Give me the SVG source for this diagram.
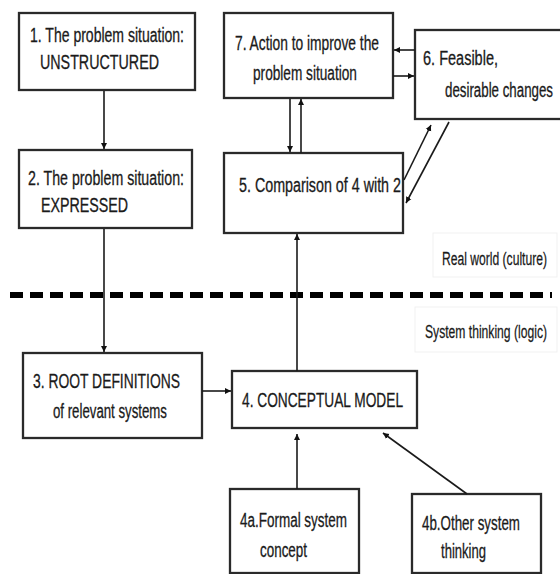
<svg xmlns="http://www.w3.org/2000/svg" width="560" height="574" viewBox="0 0 560 574">
<style>
.box{fill:#fff;stroke:#2a2a2a;stroke-width:2.3}
.lbl{fill:#fff;stroke:#f1f1f1;stroke-width:1}
.t{font-family:"Liberation Sans",Arial,sans-serif;font-size:20px;fill:#1a1a1a;stroke:#1a1a1a;stroke-width:0.3}
.s{font-family:"Liberation Sans",Arial,sans-serif;font-size:18px;fill:#1a1a1a;stroke:#1a1a1a;stroke-width:0.25}
.c{fill:none;stroke:#1a1a1a;stroke-width:1.6}
</style>
<defs>
<marker id="ah" viewBox="0 0 10 10" refX="10" refY="5" markerWidth="6" markerHeight="8" markerUnits="userSpaceOnUse" orient="auto">
<path d="M0,0 L10,5 L0,10 z" fill="#111"/>
</marker>
</defs>
<rect width="560" height="574" fill="#fff"/>
<g id="labels">
<rect class="lbl" x="433" y="233" width="124" height="44"/>
<text class="s" transform="translate(442,265) scale(0.68,1)" textLength="154.4" lengthAdjust="spacingAndGlyphs">Real world (culture)</text>
<rect class="lbl" x="415" y="307" width="142" height="45"/>
<text class="s" transform="translate(425,338) scale(0.68,1)" textLength="179.4" lengthAdjust="spacingAndGlyphs">System thinking (logic)</text>
</g>
<g id="divider">
<line x1="10" y1="295" x2="552" y2="295" stroke="#000" stroke-width="6" stroke-dasharray="13 7"/>
</g>
<g id="n1">
<rect class="box" x="19" y="13" width="176" height="77"/>
<text class="t" transform="translate(30,42) scale(0.68,1)" textLength="226.5" lengthAdjust="spacingAndGlyphs">1.  The problem situation:</text>
<text class="t" transform="translate(40,69) scale(0.68,1)" textLength="175" lengthAdjust="spacingAndGlyphs">UNSTRUCTURED</text>
</g>
<g id="n2">
<rect class="box" x="19" y="150" width="173" height="78"/>
<text class="t" transform="translate(28,185) scale(0.68,1)" textLength="229.4" lengthAdjust="spacingAndGlyphs">2.  The problem situation:</text>
<text class="t" transform="translate(41,212) scale(0.68,1)" textLength="128" lengthAdjust="spacingAndGlyphs">EXPRESSED</text>
</g>
<g id="n7">
<rect class="box" x="224" y="13" width="169" height="85"/>
<text class="t" transform="translate(235,50) scale(0.68,1)" textLength="211.8" lengthAdjust="spacingAndGlyphs">7.  Action to improve the</text>
<text class="t" transform="translate(253,80) scale(0.68,1)" textLength="152.9" lengthAdjust="spacingAndGlyphs">problem situation</text>
</g>
<g id="n6">
<rect class="box" x="415" y="30" width="150" height="89"/>
<text class="t" transform="translate(423,65) scale(0.68,1)" textLength="110.3" lengthAdjust="spacingAndGlyphs">6.  Feasible,</text>
<text class="t" transform="translate(445,97) scale(0.68,1)" textLength="158.8" lengthAdjust="spacingAndGlyphs">desirable changes</text>
</g>
<g id="n5">
<rect class="box" x="224" y="153" width="179" height="80"/>
<text class="t" transform="translate(239,192) scale(0.68,1)" textLength="238.2" lengthAdjust="spacingAndGlyphs">5.  Comparison of 4 with 2</text>
</g>
<g id="n3">
<rect class="box" x="23" y="353" width="179" height="85"/>
<text class="t" transform="translate(33,388) scale(0.68,1)" textLength="216.2" lengthAdjust="spacingAndGlyphs">3.  ROOT DEFINITIONS</text>
<text class="t" transform="translate(53,418) scale(0.68,1)" textLength="167.6" lengthAdjust="spacingAndGlyphs">of relevant systems</text>
</g>
<g id="n4">
<rect class="box" x="232" y="371" width="185" height="57"/>
<text class="t" transform="translate(242,407) scale(0.68,1)" textLength="236.8" lengthAdjust="spacingAndGlyphs">4.  CONCEPTUAL MODEL</text>
</g>
<g id="n4a">
<rect class="box" x="230" y="489" width="129" height="84"/>
<text class="t" transform="translate(240,527) scale(0.68,1)" textLength="157.4" lengthAdjust="spacingAndGlyphs">4a.Formal system</text>
<text class="t" transform="translate(260,557) scale(0.68,1)" textLength="69.1" lengthAdjust="spacingAndGlyphs">concept</text>
</g>
<g id="n4b">
<rect class="box" x="412" y="494" width="129" height="79"/>
<text class="t" transform="translate(422,530) scale(0.68,1)" textLength="144.1" lengthAdjust="spacingAndGlyphs">4b.Other system</text>
<text class="t" transform="translate(441,558) scale(0.68,1)" textLength="66.2" lengthAdjust="spacingAndGlyphs">thinking</text>
</g>
<g id="connectors">
<line class="c" x1="104" y1="91" x2="104" y2="149" marker-end="url(#ah)"/>
<line class="c" x1="104" y1="229" x2="104" y2="352" marker-end="url(#ah)"/>
<line class="c" x1="415" y1="50" x2="394" y2="50" marker-end="url(#ah)"/>
<line class="c" x1="393" y1="76" x2="414" y2="76" marker-end="url(#ah)"/>
<line class="c" x1="290" y1="99" x2="290" y2="152" marker-end="url(#ah)"/>
<line class="c" x1="301" y1="153" x2="301" y2="99" marker-end="url(#ah)"/>
<line class="c" x1="404" y1="180" x2="431" y2="125" marker-end="url(#ah)"/>
<line class="c" x1="449" y1="122" x2="406" y2="203" marker-end="url(#ah)"/>
<line class="c" x1="202" y1="391" x2="231" y2="391" marker-end="url(#ah)"/>
<line class="c" x1="297" y1="371" x2="297" y2="234" marker-end="url(#ah)"/>
<line class="c" x1="297" y1="489" x2="297" y2="434" marker-end="url(#ah)"/>
<line class="c" x1="467" y1="494" x2="383" y2="433" marker-end="url(#ah)"/>
</g>
</svg>
